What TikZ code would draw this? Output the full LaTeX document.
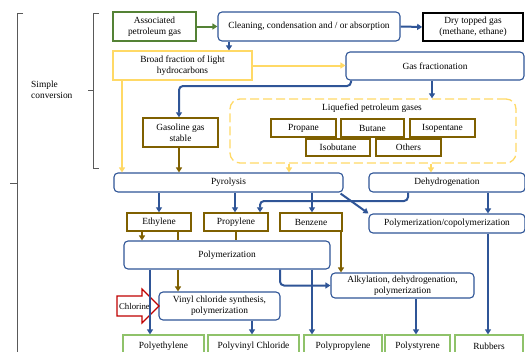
\documentclass[tikz,border=0pt]{standalone}
\usepackage{fontspec}
\setmainfont{Liberation Serif}
\usetikzlibrary{arrows.meta}
\definecolor{cblue}{HTML}{2F5597}
\definecolor{cbrown}{HTML}{7F6000}
\definecolor{cyellow}{HTML}{FFD966}
\definecolor{cgreen}{HTML}{548235}
\definecolor{clgreen}{HTML}{8FC26A}
\definecolor{cred}{HTML}{C00000}
\definecolor{cgray}{HTML}{595959}
\begin{document}
\begin{tikzpicture}[x=1pt,y=-1pt,
  font=\fontsize{9.4}{11}\selectfont,
  box/.style={draw, fill=white, align=center, inner sep=1pt, line width=1.1pt},
  bluebox/.style={box, draw=cblue, rounded corners=4pt},
  brownbox/.style={box, draw=cbrown, line width=1.4pt},
  yellowbox/.style={box, draw=cyellow, line width=1.3pt},
  greenbox/.style={box, draw=cgreen, line width=1.3pt},
  blackbox/.style={box, draw=black, line width=1.6pt},
  prodbox/.style={box, draw=clgreen, line width=1.2pt},
  tip/.style={-{Triangle[length=5pt,width=6pt]}},
  barrow/.style={draw=cblue, line width=2pt, tip},
  yarrow/.style={draw=cyellow, line width=2pt, tip},
  brarrow/.style={draw=cbrown, line width=2pt, tip},
  brline/.style={draw=cbrown, line width=2pt},
  garrow/.style={draw=cgreen, line width=2pt, tip},
  bracket/.style={draw=cgray, line width=0.8pt}
]
\useasboundingbox (0,0) rectangle (525,351);

% brackets
\draw[bracket] (23,13) -- (17,13) -- (17,360);
\draw[bracket] (17,183) -- (10,183);
\draw[bracket] (99,13) -- (93,13) -- (93,168) -- (99,168);
\draw[bracket] (93,90) -- (88,90);
\node[align=left, anchor=west, inner sep=0pt] (simple) at (31,90) {Simple\\conversion};

% LPG group
\node[draw=cyellow, line width=1.3pt, dash pattern=on 9pt off 4pt, rounded corners=10pt,
      minimum width=286pt, minimum height=64pt, inner sep=0pt] (lpg) at (373,131) {};
\node (lpgtitle) at (372,108) {Liquefied petroleum gases};

% nodes
\node[greenbox, minimum width=83pt, minimum height=29pt] (apg) at (154.5,26.5) {Associated\\petroleum gas};
\node[bluebox, minimum width=182pt, minimum height=29pt] (clean) at (309,26.5) {Cleaning, condensation and / or absorption};
\node[blackbox, minimum width=100pt, minimum height=28pt] (dry) at (473,27) {Dry topped gas\\(methane, ethane)};
\node[yellowbox, minimum width=139pt, minimum height=29pt] (broad) at (182.5,65.5) {Broad fraction of light\\hydrocarbons};
\node[bluebox, minimum width=178pt, minimum height=28pt] (gasfrac) at (435,66) {Gas fractionation};
\node[brownbox, minimum width=75pt, minimum height=29pt] (gasoline) at (180.5,132.5) {Gasoline gas\\stable};

\node[brownbox, minimum width=65pt, minimum height=18pt] (propane) at (303.5,128) {Propane};
\node[brownbox, minimum width=63pt, minimum height=18pt] (butane) at (372.5,128) {Butane};
\node[brownbox, minimum width=65pt, minimum height=18pt] (isopentane) at (442.5,128) {Isopentane};
\node[brownbox, minimum width=64pt, minimum height=17pt] (isobutane) at (338,147.5) {Isobutane};
\node[brownbox, minimum width=65pt, minimum height=17pt] (others) at (408.5,147.5) {Others};

\node[bluebox, minimum width=229pt, minimum height=19pt] (pyro) at (228.5,182.5) {Pyrolysis};
\node[bluebox, minimum width=156pt, minimum height=19pt] (dehyd) at (447,182.5) {Dehydrogenation};

\node[brownbox, minimum width=64pt, minimum height=18pt] (ethylene) at (159,222) {Ethylene};
\node[brownbox, minimum width=64pt, minimum height=18pt] (propylene) at (236,222) {Propylene};
\node[brownbox, minimum width=62pt, minimum height=18pt] (benzene) at (311,222) {Benzene};
\node[bluebox, minimum width=156pt, minimum height=19pt] (polycopoly) at (447,223.5) {Polymerization/copolymerization};

\node[bluebox, minimum width=206pt, minimum height=28pt] (polym) at (227,255) {Polymerization};
\node[bluebox, minimum width=143pt, minimum height=25pt] (alkyl) at (402.5,285.5) {Alkylation, dehydrogenation,\\polymerization};
\node[bluebox, minimum width=121pt, minimum height=28pt] (vinyl) at (219.5,306) {Vinyl chloride synthesis,\\polymerization};

% chlorine arrow
\draw[cred, line width=1.2pt, fill=white] (117,296) -- (142,296) -- (142,289) -- (159,306) -- (142,323) -- (142,316) -- (117,316) -- cycle;
\node[font=\fontsize{8.8}{10}\selectfont, inner sep=0pt] (chlorine) at (134.5,306) {Chlorine};

% products
\node[prodbox, minimum width=81pt, minimum height=22pt] (polyeth) at (163.5,346) {Polyethylene};
\node[prodbox, minimum width=91pt, minimum height=22pt] (pvc) at (253.5,346) {Polyvinyl Chloride};
\node[prodbox, minimum width=78pt, minimum height=22pt] (polyprop) at (343,346) {Polypropylene};
\node[prodbox, minimum width=65pt, minimum height=22pt] (polysty) at (417.5,346) {Polystyrene};
\node[prodbox, minimum width=68pt, minimum height=22pt] (rubbers) at (489,346) {Rubbers};

% connectors
\draw[garrow] (apg.east) -- (clean.west);
\draw[barrow] (clean.east) -- (dry.west);
\draw[barrow] (229,0 |- clean.south) -- (229,0 |- broad.north);
\draw[yarrow] (broad.east) -- (gasfrac.west |- broad.east);
\draw[yarrow] (122,0 |- broad.south) -- (122,0 |- pyro.north);
\draw[barrow] (432,0 |- gasfrac.south) -- (432,0 |- lpg.north);
\draw[barrow, rounded corners=4pt] (351,0 |- gasfrac.south) -- (351,86) -- (179,86) -- (179,0 |- gasoline.north);
\draw[brarrow] (179,0 |- gasoline.south) -- (179,0 |- pyro.north);
\draw[yarrow] (289,0 |- lpg.south) -- (289,0 |- pyro.north);
\draw[yarrow] (431,0 |- lpg.south) -- (431,0 |- dehyd.north);

\draw[barrow] (159,0 |- pyro.south) -- (159,0 |- ethylene.north);
\draw[barrow] (235,0 |- pyro.south) -- (235,0 |- propylene.north);
\draw[barrow] (312,0 |- pyro.south) -- (312,0 |- benzene.north);
\draw[barrow, rounded corners=4pt] (408,0 |- dehyd.south) -- (408,201) -- (260,201) -- (260,0 |- propylene.north);
\draw[barrow] ([xshift=-3pt,yshift=-1pt]pyro.south east) -- (polycopoly.north west);
\draw[barrow] (488,0 |- dehyd.south) -- (488,0 |- polycopoly.north);

\draw[brarrow] (142,0 |- ethylene.south) -- (142,0 |- polym.north);
\draw[brline] (178,0 |- ethylene.south) -- (178,0 |- polym.north);
\draw[brarrow] (178,0 |- polym.south) -- (178,0 |- vinyl.north);
\draw[brline] (236,0 |- propylene.south) -- (236,0 |- polym.north);
\draw[brarrow] (341,0 |- benzene.south) -- (341,0 |- alkyl.north);

\draw[barrow] (150,0 |- polym.south) -- (150,0 |- polyeth.north);
\draw[barrow, rounded corners=4pt] (280,0 |- polym.south) -- (280,0 |- alkyl.west) -- (alkyl.west);
\draw[barrow] (312,0 |- polym.south) -- (312,0 |- polyprop.north);
\draw[barrow] (252,0 |- vinyl.south) -- (252,0 |- pvc.north);
\draw[barrow] (416,0 |- alkyl.south) -- (416,0 |- polysty.north);
\draw[barrow] (488,0 |- polycopoly.south) -- (488,0 |- rubbers.north);
\end{tikzpicture}
\end{document}
